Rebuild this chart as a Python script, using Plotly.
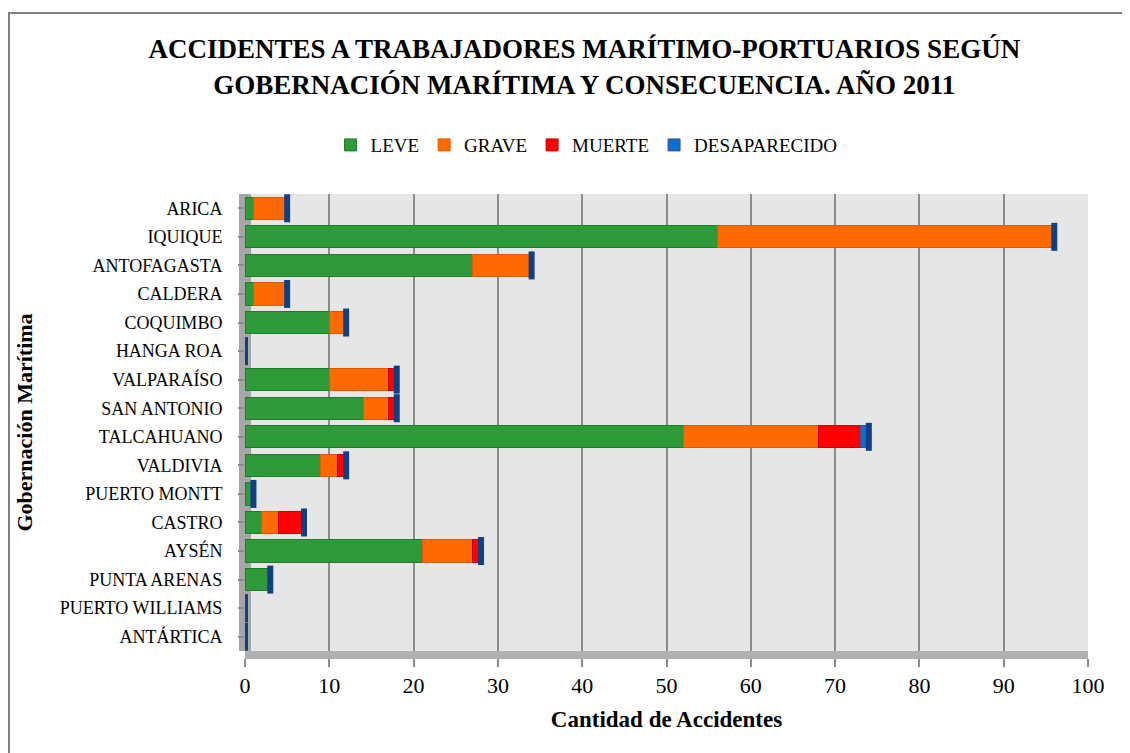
import plotly.graph_objects as go

categories = ["ARICA", "IQUIQUE", "ANTOFAGASTA", "CALDERA", "COQUIMBO", "HANGA ROA",
              "VALPARAÍSO", "SAN ANTONIO", "TALCAHUANO", "VALDIVIA", "PUERTO MONTT",
              "CASTRO", "AYSÉN", "PUNTA ARENAS", "PUERTO WILLIAMS", "ANTÁRTICA"]
leve = [1, 56, 27, 1, 10, 0, 10, 14, 52, 9, 1, 2, 21, 3, 0, 0]
grave = [4, 40, 7, 4, 2, 0, 7, 3, 16, 2, 0, 2, 6, 0, 0, 0]
muerte = [0, 0, 0, 0, 0, 0, 1, 1, 5, 1, 0, 3, 1, 0, 0, 0]
desaparecido = [0, 0, 0, 0, 0, 0, 0, 0, 1, 0, 0, 0, 0, 0, 0, 0]
x_ticks = [0, 10, 20, 30, 40, 50, 60, 70, 80, 90, 100]

FONT = "Liberation Serif"

series = [("LEVE", leve, "#2e9a3a", "#1f7a2a"),
          ("GRAVE", grave, "#ff6a00", "#e05a00"),
          ("MUERTE", muerte, "#ff0000", "#cc0000"),
          ("DESAPARECIDO", desaparecido, "#0b6fd1", "#4a4a8a")]

fig = go.Figure()
for name, vals, col, edge in series:
    fig.add_trace(go.Bar(
        y=categories, x=vals, name=name, orientation="h",
        marker=dict(color=col, line=dict(color=edge, width=1)),
    ))

totals = [a + b + c + d for a, b, c, d in zip(leve, grave, muerte, desaparecido)]
fig.add_trace(go.Scatter(
    y=categories, x=totals, mode="markers", showlegend=False, hoverinfo="skip",
    marker=dict(symbol="line-ns", size=20, line=dict(color="#123f82", width=6)),
))

fig.update_layout(
    barmode="stack",
    bargap=0.22,
    width=1130, height=753,
    margin=dict(l=237, r=50, t=186, b=110),
    paper_bgcolor="white",
    plot_bgcolor="#e6e6e6",
    font=dict(family=FONT, color="black", size=18),
    title=dict(
        text="<b>ACCIDENTES A TRABAJADORES MARÍTIMO-PORTUARIOS SEGÚN<br>GOBERNACIÓN MARÍTIMA Y CONSECUENCIA. AÑO 2011</b>",
        x=0.51, xanchor="center", xref="container", y=0.933, yanchor="top", yref="container",
        font=dict(family=FONT, size=27, color="black"),
    ),
    legend=dict(
        orientation="h", x=0.512, xanchor="center", xref="container",
        y=0.818, yanchor="middle", yref="container",
        font=dict(family=FONT, size=19), traceorder="normal",
        itemwidth=30,
    ),
    xaxis=dict(
        range=[0, 100], tickvals=x_ticks, ticktext=[str(t) for t in x_ticks],
        showgrid=True, gridcolor="#8c8c8c", gridwidth=2,
        zeroline=True, zerolinecolor="#a6a6a6", zerolinewidth=12,
        showline=True, linecolor="#b0b0b0", linewidth=8,
        ticks="outside", tickcolor="#8c8c8c", ticklen=8, tickwidth=2,
        ticklabelstandoff=0,
        tickfont=dict(family=FONT, size=22),
        title=dict(text="<b>Cantidad de Accidentes</b>", font=dict(family=FONT, size=23), standoff=16),
        fixedrange=True,
    ),
    yaxis=dict(
        range=[15.5, -0.5], categoryorder="array", categoryarray=categories,
        showgrid=False, ticks="outside", tickcolor="#8c8c8c", ticklen=6, tickwidth=2,
        ticklabelstandoff=12,
        tickfont=dict(family=FONT, size=18),
        title=dict(text="<b>Gobernación Marítima</b>", font=dict(family=FONT, size=22), standoff=20),
        showline=False,
    ),
    shapes=[dict(type="rect", xref="paper", yref="paper",
                 x0=(1 - 237) / 843, x1=1.2, y0=-0.5, y1=(643 - 5) / 457,
                 line=dict(color="#808080", width=2), fillcolor="rgba(0,0,0,0)", layer="below")],
)

fig.write_html("out.html")
